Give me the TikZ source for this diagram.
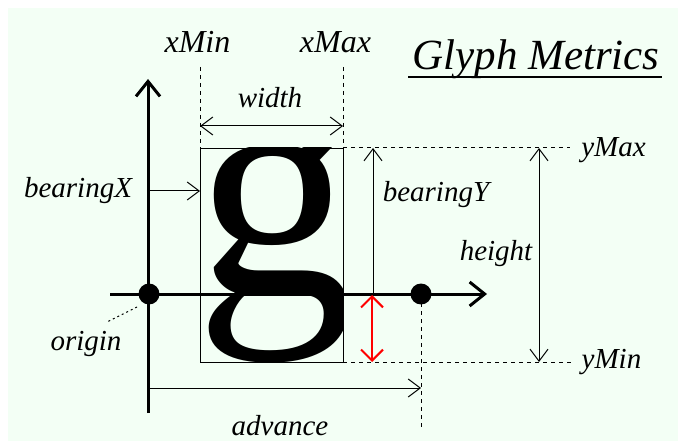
\documentclass[tikz,border=0pt]{standalone}
\usepackage{fontspec}
\setmainfont{Liberation Serif}
\usetikzlibrary{arrows.meta}
\definecolor{bgmint}{RGB}{243,255,245}
\begin{document}
\begin{tikzpicture}[x=1pt,y=-1pt,
  Tb/.tip={Straight Barb[length=12pt,width=18pt]},
  Ab/.tip={Straight Barb[length=15pt,width=24pt]},
  lbl/.style={font=\fontsize{29}{30}\selectfont\itshape, inner sep=0pt, anchor=base},
  lblw/.style={font=\fontsize{32}{34}\selectfont\itshape, inner sep=0pt, anchor=base},
  thin/.style={line width=1pt},
  dimarrow/.style={line width=1pt, Tb-Tb},
  onearrow/.style={line width=1pt, -Tb},
  axisline/.style={line width=3pt, -Ab},
  dashline/.style={line width=1pt, dash pattern=on 4pt off 4pt},
  dotline/.style={line width=1pt, dash pattern=on 2pt off 3pt},
  dotmark/.style={circle, fill=black, minimum size=21pt, inner sep=0pt}
]
\useasboundingbox (0,0) rectangle (678,441);
\fill[white] (0,0) rectangle (678,441);
\fill[bgmint] (8,8) rectangle (678,441);

% named points
\coordinate (hL) at (110,294);
\coordinate (hR) at (487,294);
\coordinate (vT) at (148,79);
\coordinate (vB) at (148,413);
\coordinate (xminT) at (200,67);
\coordinate (xmaxT) at (343,67);
\coordinate (boxTL) at (200,148);
\coordinate (boxTR) at (343,148);
\coordinate (boxBR) at (343,362);
\coordinate (ymaxE) at (570,148);
\coordinate (yminE) at (572,362);
\coordinate (wL) at (200,126);
\coordinate (wR) at (343,126);
\coordinate (bxL) at (148,191);
\coordinate (bxR) at (200,191);
\coordinate (byB) at (373,294);
\coordinate (byT) at (373,148);
\coordinate (hT) at (539,148);
\coordinate (hB) at (539,362);
\coordinate (rT) at (372,295);
\coordinate (rB) at (372,362);
\coordinate (advL) at (148,388);
\coordinate (advR) at (421,388);
\coordinate (advT) at (421,303);
\coordinate (advB) at (421,427);
\coordinate (orA) at (137,307);
\coordinate (orB) at (107,322);
\coordinate (ulL) at (408,77);
\coordinate (ulR) at (662,77);

% glyph, kept inside its box
\begin{scope}
  \clip (boxTL) rectangle (boxBR);
  \node[inner sep=0pt, anchor=base west, text height=146pt, text depth=68pt,
        font=\fontsize{318}{318}\selectfont] (g) at (195,294) {g};
\end{scope}
\node[draw, thin, inner sep=0pt, anchor=north west, minimum width=143pt, minimum height=214pt] (box) at (boxTL) {};

% axes
\draw[axisline] (hL) -- (hR);
\draw[axisline] (vB) -- (vT);
\node[dotmark] (origin) at (149,294) {};
\node[dotmark] (advpt) at (421,294) {};

% dashed guides
\draw[dashline] (xminT) -- (boxTL);
\draw[dashline] (xmaxT) -- (boxTR);
\draw[dashline] (boxTR) -- (ymaxE);
\draw[dashline] (boxBR) -- (yminE);
\draw[dashline] (advT) -- (advB);
\draw[dotline] (orA) -- (orB);

% dimension arrows
\draw[dimarrow] (wL) -- (wR);
\draw[onearrow] (bxL) -- (bxR);
\draw[onearrow] (byB) -- (byT);
\draw[dimarrow] (hT) -- (hB);
\draw[onearrow] (advL) -- (advR);
\draw[line width=2pt, red, {Straight Barb[length=11pt,width=22pt]}-{Straight Barb[length=11pt,width=22pt]}] (rT) -- (rB);

% labels
\node[lblw] (lxmin) at (197.5,53) {xMin};
\node[lblw] (lxmax) at (335.5,53) {xMax};
\node[lbl] (lwidth) at (270,108) {width};
\node[lbl] (lbx) at (78,198) {bearingX};
\node[lbl] (lby) at (436,202) {bearingY};
\node[lbl] (lheight) at (496,260) {height};
\node[lbl] (lymax) at (613.5,157) {yMax};
\node[lbl] (lymin) at (611.5,368) {yMin};
\node[lbl] (lorigin) at (86,350) {origin};
\node[lbl] (ladv) at (280,435) {advance};
\node[font=\fontsize{43}{45}\selectfont\itshape, inner sep=0pt, anchor=base] (title) at (536,70) {Glyph Metrics};
\draw[line width=1.5pt] (ulL) -- (ulR);
\end{tikzpicture}
\end{document}
